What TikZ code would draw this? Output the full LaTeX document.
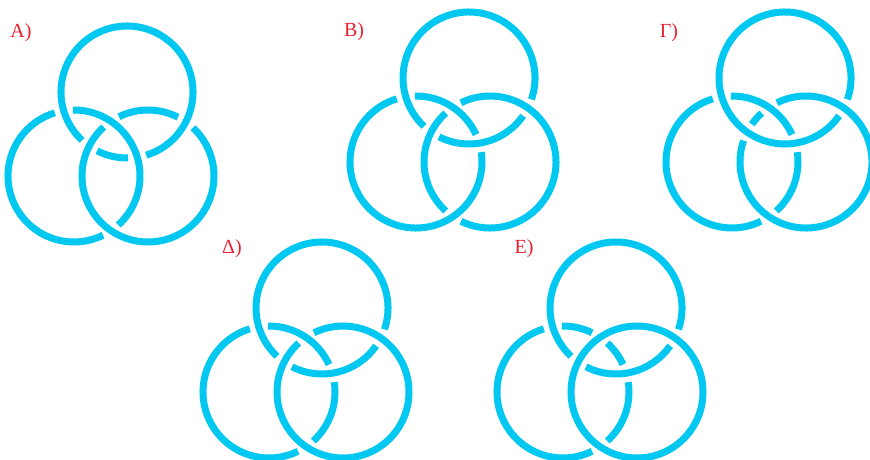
\documentclass[tikz,border=0pt]{standalone}
\usepackage{fontspec}
\setmainfont{Liberation Serif}
\definecolor{ringblue}{RGB}{0,200,240}
\definecolor{labelred}{RGB}{232,32,48}

% centres of the left, right and top ring of one figure
\newcommand{\centres}[3]{\coordinate (#1l) at (#2,#3);
        \coordinate (#1r) at (#2+74,#3);
        \coordinate (#1t) at (#2+53,#3+84);}
% one piece of a ring, from one crossing to the next (gap of 8 degrees each side)
\newcommand{\ringarc}[3]{\draw[ring] (#1) ++(#2+8:66pt) arc[start angle=#2+8, end angle=#3-8, radius=66pt];}

\begin{document}
\begin{tikzpicture}
                [x=1pt, y=1pt,
                ring/.style={draw=ringblue, line width=7pt, line cap=butt},
                lbl/.style={text=labelred, font=\fontsize{20}{22}\selectfont, inner sep=0pt},
                ]
                \useasboundingbox (0,0) rectangle (870,459);
                \centres{A}{74}{283}
                \centres{B}{416}{297}
                \centres{G}{732}{297}
                \centres{D}{269}{67}
                \centres{E}{563}{67}

                \node[lbl] (labA) at (21,426) {A)};
                \node[lbl] (labB) at (354,427) {B)};
                \node[lbl] (labG) at (669,426) {Γ)};
                \node[lbl] (labD) at (232,210) {Δ)};
                \node[lbl] (labE) at (524,210) {E)};

                % A
                \ringarc{Al}{98.9}{304.1}	\ringarc{Al}{304.1}{458.9}
                \ringarc{Ar}{55.0}{124.1}	\ringarc{Ar}{124.1}{415.0}
                \ringarc{At}{235.0}{278.9}	\ringarc{At}{278.9}{595.0}
                % B
                \ringarc{Bl}{16.6}{98.9}	\ringarc{Bl}{98.9}{376.6}
                \ringarc{Br}{124.1}{235.9}	\ringarc{Br}{235.9}{484.1}
                \ringarc{Bt}{235.0}{333.1}	\ringarc{Bt}{333.1}{595.0}
                % Gamma
                \ringarc{Gl}{16.6}{98.9}	\ringarc{Gl}{98.9}{304.1}	\ringarc{Gl}{304.1}{376.6}
                \ringarc{Gr}{124.1}{153.1}	\ringarc{Gr}{153.1}{484.1}
                \ringarc{Gt}{333.1}{693.1}
                % Delta
                \ringarc{Dl}{16.6}{98.9}	\ringarc{Dl}{98.9}{304.1}	\ringarc{Dl}{304.1}{376.6}
                \ringarc{Dr}{124.1}{484.1}
                \ringarc{Dt}{235.0}{333.1}	\ringarc{Dt}{333.1}{595.0}
                % E
                \ringarc{El}{16.6}{55.9}	\ringarc{El}{55.9}{98.9}
                \ringarc{El}{98.9}{304.1}	\ringarc{El}{304.1}{376.6}
                \draw[ring] (Er) circle[radius=66pt];
                \ringarc{Et}{235.0}{333.1}	\ringarc{Et}{333.1}{595.0}
            \end{tikzpicture}
\end{document}
